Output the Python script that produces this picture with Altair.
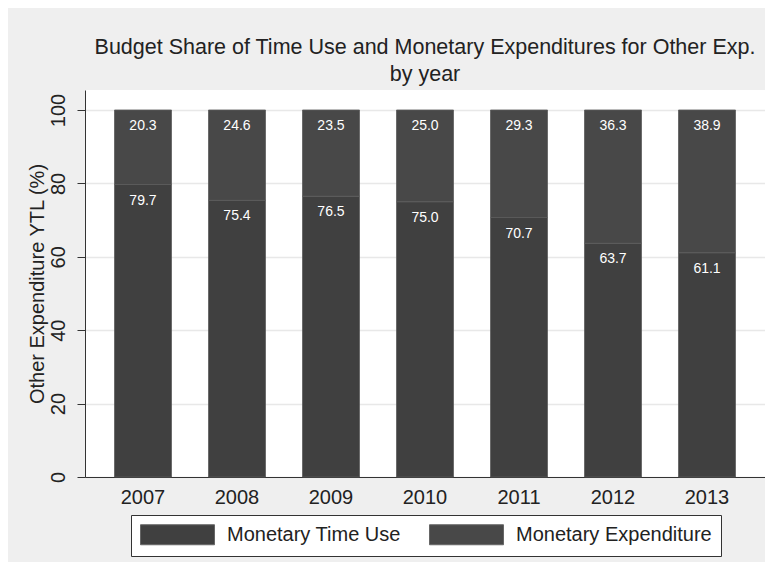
import altair as alt
import pandas as pd

years = ["2007", "2008", "2009", "2010", "2011", "2012", "2013"]
time_use = [79.7, 75.4, 76.5, 75.0, 70.7, 63.7, 61.1]
expenditure = [20.3, 24.6, 23.5, 25.0, 29.3, 36.3, 38.9]
series = ["Monetary Time Use", "Monetary Expenditure"]
colors = ["#404040", "#484848"]

rows = []
for i, y in enumerate(years):
    rows.append({"year": y, "series": series[0], "ord": 0, "value": time_use[i]})
    rows.append({"year": y, "series": series[1], "ord": 1, "value": expenditure[i]})
df = pd.DataFrame(rows)

FONT = "Liberation Sans"

base = alt.Chart(df).transform_stack(
    stack="value",
    groupby=["year"],
    as_=["y0", "y1"],
    sort=[alt.SortField("ord", order="ascending")],
)

x_enc = alt.X(
    "year:N",
    title=None,
    scale=alt.Scale(paddingInner=0.394, paddingOuter=0.314),
    axis=alt.Axis(labelAngle=0, ticks=False, labelPadding=10, domain=True,
                  domainColor="#333333", labelFontSize=20, labelColor="#222222",
                  labelFont=FONT, grid=False),
)
y_scale = alt.Scale(domain=[0, 105.45], nice=False, zero=True)

bars = base.mark_bar(stroke="#5a5a5a", strokeWidth=0.8).encode(
    x=x_enc,
    y=alt.Y(
        "y1:Q",
        scale=y_scale,
        title="Other Expenditure YTL (%)",
        axis=alt.Axis(
            values=[0, 20, 40, 60, 80, 100],
            labelAngle=270,
            labelAlign="center",
            labelBaseline="bottom",
            labelFontSize=20,
            labelFont=FONT,
            labelColor="#222222",
            labelPadding=9,
            tickSize=8,
            tickColor="#333333",
            domainColor="#333333",
            grid=True,
            gridColor="#e8e8e8",
            gridWidth=1.5,
            titleFontSize=20,
            titleFont=FONT,
            titleFontWeight="normal",
            titleColor="#222222",
            titlePadding=1,
        ),
    ),
    y2="y0:Q",
    color=alt.Color(
        "series:N",
        scale=alt.Scale(domain=series, range=colors),
        legend=alt.Legend(
            title=None,
            orient="none",
            legendX=46,
            legendY=425,
            direction="horizontal",
            symbolType="M-1,-1H6.4V1H-1Z",
            symbolSize=400,
            symbolStrokeColor="#666666",
            symbolStrokeWidth=1,
            labelFontSize=20,
            labelFont=FONT,
            labelColor="#222222",
            labelOffset=66,
            labelLimit=400,
            columnPadding=26,
            padding=9,
            strokeColor="#333333",
            fillColor="white",
        ),
    ),
)

labels = base.mark_text(
    color="white", fontSize=14, font=FONT, baseline="middle", dy=16
).encode(
    x="year:N",
    y=alt.Y("y1:Q", scale=y_scale),
    text=alt.Text("value:Q", format=".1f"),
)

chart = (
    alt.layer(bars, labels)
    .properties(
        width=680,
        height=387,
        padding={"left": 77, "top": 82, "right": 0, "bottom": 85},
        autosize=alt.AutoSizeParams(type="none"),
        background="#efefef",
        title=alt.TitleParams(
            text=["Budget Share of Time Use and Monetary Expenditures for Other Exp.", "by year"],
            fontSize=21.5,
            font=FONT,
            fontWeight="normal",
            color="#222222",
            anchor="middle",
            offset=5,
            lineHeight=27,
        ),
    )
    .configure_view(fill="white", stroke=None)
)

chart.save("out.html", embed_options={"renderer": "svg", "actions": False})
